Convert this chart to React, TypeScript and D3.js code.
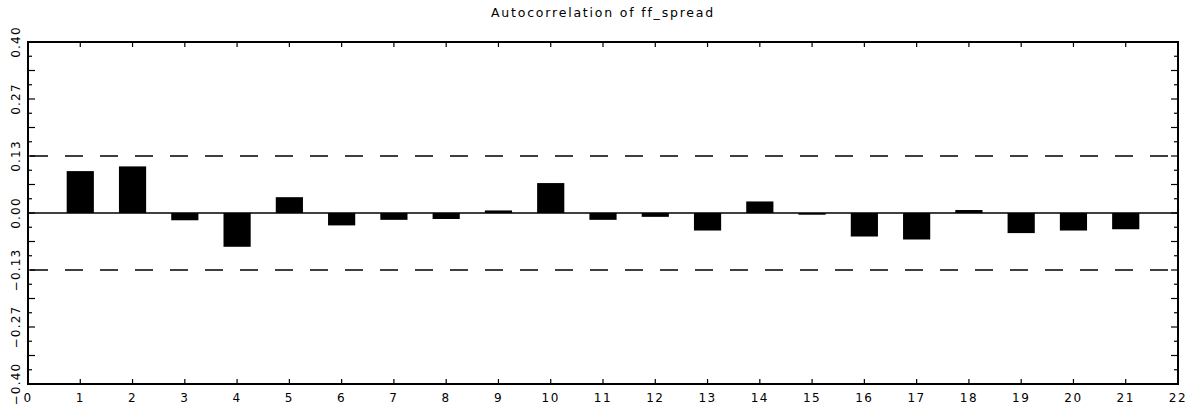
import React from "react";
import * as d3 from "d3";

// lag 1..21 autocorrelation values
const lags = [1, 2, 3, 4, 5, 6, 7, 8, 9, 10, 11, 12, 13, 14, 15, 16, 17, 18, 19, 20, 21];
const acf = [
  0.098, 0.109, -0.017, -0.079, 0.037, -0.029, -0.016, -0.014, 0.006, 0.07,
  -0.016, -0.009, -0.041, 0.027, -0.004, -0.055, -0.062, 0.007, -0.047, -0.041, -0.038,
];
const confBand = 0.1333;
const xTicks = d3.range(0, 23);
const yLabels = [-0.4, -0.2667, -0.1333, 0, 0.1333, 0.2667, 0.4];
const title = "Autocorrelation of ff_spread";

const W = 1198;
const H = 410;
const margin = { top: 42, right: 20, bottom: 26, left: 28 };
const font = "'DejaVu Sans', 'Liberation Sans', sans-serif";

export default function App() {
  const x = d3.scaleLinear().domain([0, 22]).range([margin.left, W - margin.right]);
  const y = d3.scaleLinear().domain([-0.4, 0.4]).range([H - margin.bottom, margin.top]);
  const barW = x(0.52) - x(0);

  // y ticks: long every 1/15, short in between
  const yMajor = d3.range(0, 13).map((i) => -0.4 + (i * 0.8) / 12);
  const yMinor = d3.range(0, 12).map((i) => -0.4 + ((i + 0.5) * 0.8) / 12);

  const x0 = x(0);
  const x1 = x(22);
  const y0 = y(-0.4);
  const y1 = y(0.4);

  return (
    <svg width={W} height={H} style={{ position: "absolute", left: 0, top: 0, background: "white" }}>
      <text
        x={(x0 + x1) / 2}
        y={17}
        textAnchor="middle"
        fontFamily={font}
        fontSize={12.5}
        letterSpacing={1.8}
        fill="#000"
      >
        {title}
      </text>

      {lags.map((l, i) => (
        <rect
          key={l}
          x={x(l) - barW / 2}
          y={Math.min(y(acf[i]), y(0))}
          width={barW}
          height={Math.max(Math.abs(y(acf[i]) - y(0)), 1.5)}
          fill="#000"
        />
      ))}

      <line x1={x0} x2={x1} y1={y(0)} y2={y(0)} stroke="#000" strokeWidth={1.3} />
      {[confBand, -confBand].map((c) => (
        <line
          key={c}
          x1={x0}
          x2={x1}
          y1={y(c)}
          y2={y(c)}
          stroke="#000"
          strokeWidth={1.3}
          strokeDasharray="18 17"
          strokeDashoffset={-2}
        />
      ))}

      {/* frame */}
      <rect x={x0} y={y1} width={x1 - x0} height={y0 - y1} fill="none" stroke="#000" strokeWidth={2} />

      {xTicks.map((t) => (
        <g key={t}>
          <line x1={x(t)} x2={x(t)} y1={y0} y2={y0 - 5} stroke="#000" strokeWidth={1.2} />
          <line x1={x(t)} x2={x(t)} y1={y1} y2={y1 + 5} stroke="#000" strokeWidth={1.2} />
          <text
            x={x(t)}
            y={402}
            textAnchor="middle"
            fontFamily={font}
            fontSize={12}
            letterSpacing={1.5}
            fill="#000"
          >
            {t}
          </text>
        </g>
      ))}

      {yMajor.map((t, i) => (
        <g key={"M" + i}>
          <line x1={x0} x2={x0 + 7} y1={y(t)} y2={y(t)} stroke="#000" strokeWidth={1.2} />
          <line x1={x1} x2={x1 - 7} y1={y(t)} y2={y(t)} stroke="#000" strokeWidth={1.2} />
        </g>
      ))}
      {yMinor.map((t, i) => (
        <g key={"m" + i}>
          <line x1={x0} x2={x0 + 4} y1={y(t)} y2={y(t)} stroke="#000" strokeWidth={1.2} />
          <line x1={x1} x2={x1 - 4} y1={y(t)} y2={y(t)} stroke="#000" strokeWidth={1.2} />
        </g>
      ))}

      {yLabels.map((t) => (
        <text
          key={t}
          transform={`translate(20,${y(t)}) rotate(-90)`}
          textAnchor="middle"
          fontFamily={font}
          fontSize={12}
          letterSpacing={1.2}
          fill="#000"
        >
          {t.toFixed(2).replace("-", "\u2212").replace("\u22120.00", "0.00")}
        </text>
      ))}
    </svg>
  );
}
